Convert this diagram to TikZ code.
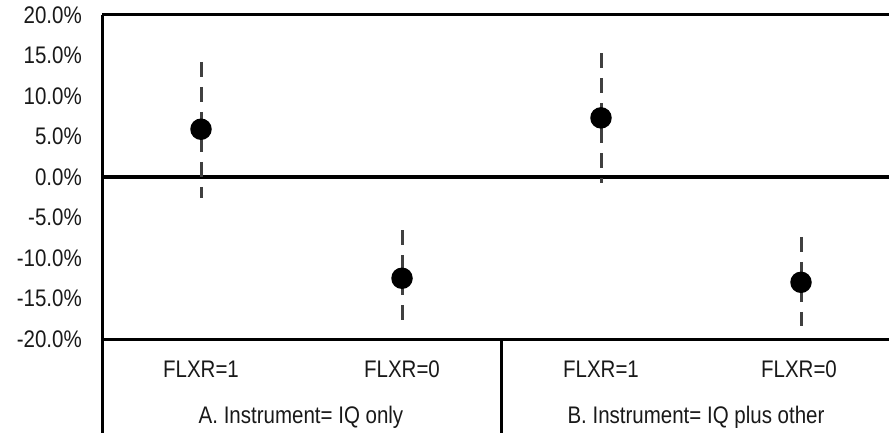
\documentclass[tikz,border=0pt]{standalone}
\usepackage{fontspec}
\setmainfont{Liberation Sans}
\newcommand{\tallx}[1]{\scalebox{1}[1.17]{#1}}
\begin{document}
\begin{tikzpicture}[x=1pt,y=-1pt,
  lbl/.style={font=\fontsize{20.5}{24}\selectfont, inner sep=0pt, text=black!90},
  ylbl/.style={lbl, anchor=east},
  axisline/.style={line width=3pt, black},
  errbar/.style={line width=3pt, black!75, dash pattern=on 15pt off 10pt},
  dot/.style={circle, fill=black, inner sep=0pt, minimum size=21.5pt}]
\useasboundingbox (0,0) rectangle (889,433);
% y axis labels
\foreach \v/\t in {20/20.0\%,15/15.0\%,10/10.0\%,5/5.0\%,0/0.0\%,-5/-5.0\%,-10/-10.0\%,-15/-15.0\%,-20/-20.0\%}{
  \node[ylbl] (y\v) at (82,{177-\v*8.1}) {\tallx{\t}};
}
% frame lines
\coordinate (tl) at (102,15);
\coordinate (tr) at (889,15);
\coordinate (zl) at (102,177);
\coordinate (zr) at (889,177);
\coordinate (bl) at (102,339);
\coordinate (br) at (889,339);
\coordinate (axbot) at (102,433);
\coordinate (divtop) at (501,339);
\coordinate (divbot) at (501,433);
\draw[axisline] (tl) -- (tr);
\draw[axisline] (zl) -- (zr);
\draw[axisline] (bl) -- (br);
\draw[axisline] (tl) -- (axbot);
\draw[axisline] (divtop) -- (divbot);
% error bars
\foreach \n/\x/\m/\hi/\lo in {a1/201/5.9/14.2/-2.6, a0/402/-12.5/-6.6/-18.4, b1/601/7.3/15.3/-0.7, b0/801/-13.0/-7.4/-18.4}{
  \coordinate (\n top) at (\x,{177-\hi*8.1});
  \coordinate (\n bot) at (\x,{177-\lo*8.1});
  \draw[errbar] (\n top) -- (\n bot);
  \node[dot] (\n) at (\x,{177-\m*8.1}) {};
}
% category labels
\node[lbl] (fa1) at (201,369) {\tallx{FLXR=1}};
\node[lbl] (fa0) at (402,369) {\tallx{FLXR=0}};
\node[lbl] (fb1) at (601,369) {\tallx{FLXR=1}};
\node[lbl] (fb0) at (799,369) {\tallx{FLXR=0}};
\node[lbl] (pa) at (301,417) {\tallx{A. Instrument= IQ only}};
\node[lbl] (pb) at (696,417) {\tallx{B. Instrument= IQ plus other}};
\end{tikzpicture}
\end{document}
